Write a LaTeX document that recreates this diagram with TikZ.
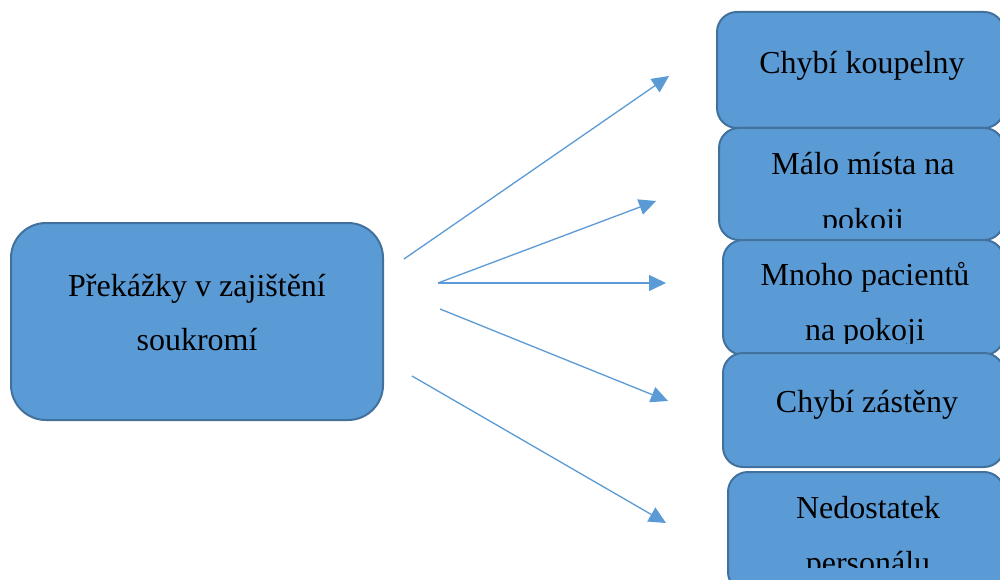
\documentclass[tikz,border=0pt]{standalone}
\usepackage{fontspec}
\setmainfont{Liberation Serif}
\usetikzlibrary{arrows.meta}
\definecolor{boxfill}{HTML}{5B9BD5}
\definecolor{boxline}{HTML}{41719C}
\definecolor{arrcol}{HTML}{5B9BD5}
\tikzset{
  box/.style={draw=boxline, line width=2pt, fill=boxfill, rounded corners=20pt, inner sep=0pt, outer sep=0pt},
  bigbox/.style={box, rounded corners=35pt},
  txt/.style={anchor=base, inner sep=0pt, font=\fontsize{32}{55}\selectfont, text=black},
  arr/.style={draw=arrcol, line width=1.3pt, -{Triangle[length=17pt, width=16pt]}}
}
\begin{document}
\begin{tikzpicture}[x=1pt, y=-1pt]
\useasboundingbox (0,0) rectangle (1000,580);
\clip (0,0) rectangle (1000,580);
\fill[white] (0,0) rectangle (1000,580);
% main box
\node[bigbox, minimum width=372pt, minimum height=197pt] (main) at (197,321.5) {};
\node[txt] (m1) at (197,296) {Překážky v zajištění};
\node[txt] (m2) at (197,350) {soukromí};
% right boxes
\node[box, minimum width=287pt, minimum height=116pt] (b1) at (860.5,70) {};
\node[txt] (t1) at (862,74) {Chybí koupelny};
\node[box, minimum width=285pt, minimum height=112pt] (b2) at (861.5,184) {};
\node[txt] (t2a) at (863,175) {Málo místa na};
\begin{scope}
  \clip (720,130) rectangle (1000,227);
  \node[txt] (t2b) at (863,230) {pokoji};
\end{scope}
\node[box, minimum width=281pt, minimum height=115pt] (b3) at (863.5,297.5) {};
\node[txt] (t3a) at (865,285) {Mnoho pacientů};
\begin{scope}
  \clip (724,242) rectangle (1000,343);
  \node[txt] (t3b) at (865,340) {na pokoji};
\end{scope}
\node[box, minimum width=281pt, minimum height=114pt] (b4) at (863.5,410) {};
\node[txt] (t4) at (867,412) {Chybí zástěny};
\node[box, minimum width=276pt, minimum height=120pt] (b5) at (866,532) {};
\node[txt] (t5a) at (868,518) {Nedostatek};
\begin{scope}
  \clip (729,474) rectangle (1000,567);
  \node[txt] (t5b) at (868,573) {personálu};
\end{scope}
% arrows
\coordinate (s1) at (404,259); \coordinate (e1) at (669,76);
\coordinate (s2) at (438,283); \coordinate (e2) at (656,201);
\coordinate (s3) at (438,283); \coordinate (e3) at (666,283);
\coordinate (s4) at (440,309); \coordinate (e4) at (668,401);
\coordinate (s5) at (412,376); \coordinate (e5) at (666,523);
\draw[arr] (s1) -- (e1);
\draw[arr] (s2) -- (e2);
\draw[arr] (s3) -- (e3);
\draw[arr] (s4) -- (e4);
\draw[arr] (s5) -- (e5);
\end{tikzpicture}
\end{document}
